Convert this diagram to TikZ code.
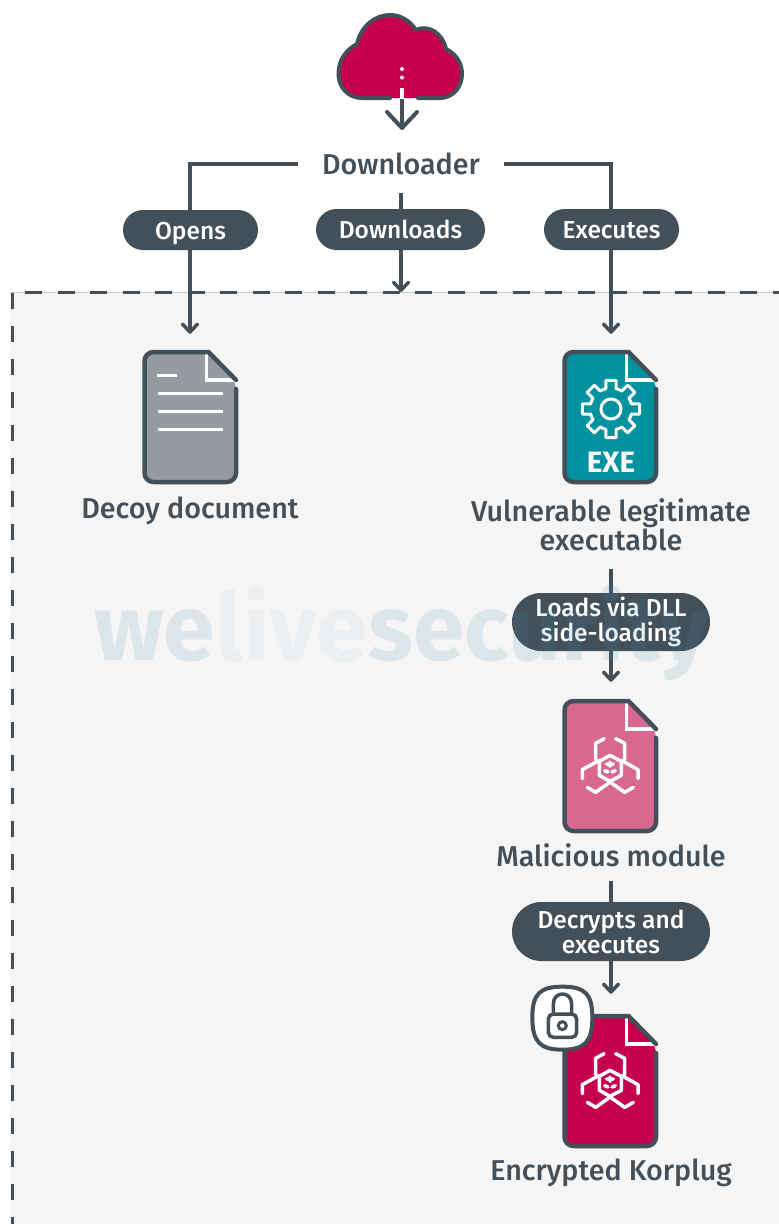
\documentclass[tikz,border=0pt]{standalone}
\usepackage{fontspec}
\setmainfont{Fira Sans}
\newfontfamily\labelfont{Fira Sans Medium}
\newfontfamily\heavyfont{Fira Sans}[BoldFont=* Bold]
\usetikzlibrary{arrows.meta,shapes.misc}
\definecolor{ink}{HTML}{434F59}
\definecolor{panel}{HTML}{F5F5F5}
\definecolor{crimson}{HTML}{C4004F}
\definecolor{rosepink}{HTML}{D96890}
\definecolor{tealfile}{HTML}{00939F}
\definecolor{greyfile}{HTML}{959BA1}
\definecolor{markblue}{HTML}{468CAA}
\tikzset{
  flow/.style={draw=ink,line width=3.5pt,-{Straight Barb[length=8pt,width=15pt,line width=3.5pt,round]}},
  pill/.style={rounded rectangle,fill=ink,text=white,inner sep=0pt,align=center,font=\labelfont\fontsize{24.5}{25}\selectfont},
  onerow/.style={text height=21pt,text depth=3pt},
  caption/.style={text=ink,inner sep=0pt,align=center,font=\labelfont\fontsize{28.7}{29}\selectfont},
  filebox/.style={minimum width=95pt,minimum height=132pt,inner sep=0pt},
  fileline/.style={draw=white,line width=3pt},
  wmark/.style={inner sep=0pt,anchor=base west,font=\heavyfont\bfseries\fontsize{93}{93}\selectfont,text=markblue},
  pics/docfile/.style={code={
    \fill[#1,rounded corners=9pt] (0,0) -- (64,0) -- (91.5,29) -- (91.5,130) -- (0,130) -- cycle;
    \draw[white,line width=3.5pt] (62,2) -- (62,28) -- (90,28);
    \draw[ink,line width=4.5pt,line join=round,line cap=round,rounded corners=9pt]
      (91.5,37) -- (91.5,130) -- (0,130) -- (0,0) -- (64,0);
    \draw[ink,line width=4.5pt,line cap=round] (64,0) -- (91.5,28);
  }},
  pics/biohazard/.style={code={
    \begin{scope}[x=0.3333pt,y=-0.3333pt,shift={(-268,-310)},draw=white,line width=3.5pt,line cap=round,line join=round]
      \draw (268,272) -- (302,290) -- (302,332) -- (268,350) -- (236,332) -- (236,290) -- cycle;
      \draw (250,222) -- (225,236) -- (225,285);
      \draw (285,222) -- (312,236) -- (312,285);
      \draw (185,342) -- (185,315) -- (236,287);
      \draw (352,342) -- (352,315) -- (302,287);
      \draw (200,368) -- (225,383) -- (268,352) -- (312,383) -- (338,368);
      \draw (258,298) -- (278,298) (268,292) -- (268,305) (252,318) -- (262,322) (284,318) -- (274,322);
    \end{scope}
  }},
}
\begin{document}
\begin{tikzpicture}[x=1pt,y=-1pt]
\useasboundingbox (0,0) rectangle (779,1224);
\fill[white] (0,0) rectangle (779,1224);
% panel
\fill[panel] (10,292) rectangle (779,1224);
\draw[black!20,line width=.6pt] (10,292) -- (779,292);
\draw[ink,line width=3pt,dash pattern=on 17pt off 15.5pt] (25,292.5) -- (779,292.5);
\draw[ink,line width=3pt,dash pattern=on 16pt off 17pt] (12,293) -- (12,1224);

% icon anchors and labels
\node[caption,inner xsep=24pt,inner ysep=6pt] (dl) at (401,164) {Downloader};
\node[filebox] (decoy) at (190,417) {};
\node[filebox] (vuln) at (611,417) {};
\node[filebox] (mal) at (611,766) {};
\node[filebox] (enc) at (611,1081) {};
\node[caption] (decoylabel) at (190,511) {Decoy document};
\node[caption] (vulnlabel) at (611,525) {Vulnerable legitimate\\executable};
\node[caption] (mallabel) at (611,855) {Malicious module};
\node[caption] (enclabel) at (611,1173) {Encrypted Korplug};
\coordinate (paneltop) at (401,292);

% connectors
\draw[flow] (dl.west) -| ([yshift=17pt]decoy.north);
\draw[flow] (dl.east) -| ([yshift=17pt]vuln.north);
\draw[flow,shorten <=12pt] (dl.south) -- (paneltop);
\draw[flow,shorten <=18pt,shorten >=18pt] (vulnlabel.south) -- (mal.north);
\draw[flow,shorten <=14pt,shorten >=21pt] (mallabel.south) -- (enc.north);

% pills
\node[pill,onerow,minimum width=135pt,minimum height=40pt] (opens) at (190.5,230) {Opens};
\node[pill,onerow,minimum width=169pt,minimum height=41pt] (downloads) at (400.5,229.5) {Downloads};
\node[pill,onerow,minimum width=135pt,minimum height=41pt] (executes) at (611.5,229.5) {Executes};
\node[pill,minimum width=198pt,minimum height=58pt] (loads) at (611,622) {Loads via DLL\\side-loading};
\node[pill,minimum width=198pt,minimum height=59pt] (decrypts) at (611,931.5) {Decrypts and\\executes};

% cloud
\path[fill=crimson] (362,98) .. controls (348,98) and (338.5,87) .. (338.5,74) .. controls (338.5,60) and (346,50) .. (357,44)
  .. controls (361,26) and (375,15) .. (390,15) .. controls (401,15) and (410,21) .. (416,30)
  .. controls (429,24) and (443,34) .. (446,49) .. controls (456,54) and (462,63) .. (462,74)
  .. controls (462,88) and (452,98) .. (440,98) -- cycle;
\draw[ink,line width=4pt,line cap=round] (390,98) -- (362,98) .. controls (348,98) and (338.5,87) .. (338.5,74) .. controls (338.5,60) and (346,50) .. (357,44)
  .. controls (361,26) and (375,15) .. (390,15) .. controls (401,15) and (410,21) .. (416,30)
  .. controls (429,24) and (443,34) .. (446,49) .. controls (456,54) and (462,63) .. (462,74)
  .. controls (462,88) and (452,98) .. (440,98) -- (418,98);
\fill[white] (402,69) circle (2pt) (402,77.5) circle (2pt);
\draw[white,line width=3.5pt] (402,88) -- (402,99);
\draw[ink,line width=3.5pt] (402,99) -- (402,127);
\draw[ink,line width=4pt,line cap=round,line join=round] (387,112) -- (402,128) -- (417,112);

% decoy document
\pic at (144.5,352) {docfile=greyfile};
\draw[fileline] (157,375) -- (177,375);
\foreach \ly in {393,411,429} \draw[fileline] (158,\ly) -- (223,\ly);

% exe
\pic at (564.5,352) {docfile=tealfile};
\foreach \a in {0,45,...,315}
  \draw[white,line width=3pt,line join=round,line cap=round,shift={(611,409)}]
    (\a-22.5:21) -- (\a-14:21) -- (\a-10:29) -- (\a+10:29) -- (\a+14:21) -- (\a+22.5:21);
\draw[white,line width=3pt] (611,409) circle (10);
\node[inner sep=0pt,text=white,font=\heavyfont\bfseries\fontsize{29.5}{29.5}\selectfont] (exe) at (611,462) {EXE};

% malicious module
\pic at (564.5,701) {docfile=rosepink};
\pic at (610,768) {biohazard};

% encrypted korplug
\pic at (564.5,1016) {docfile=crimson};
\pic at (610,1083) {biohazard};
\begin{scope}[shift={(520,980)},x=0.3333pt,y=-0.3333pt]
  \path[fill=white,draw=ink,line width=4pt] (127,20) .. controls (195,20) and (217,42) .. (217,112)
    .. controls (217,185) and (195,209) .. (127,209) .. controls (60,209) and (37,185) .. (37,112)
    .. controls (37,42) and (60,20) .. (127,20) -- cycle;
  \draw[ink,line width=3.5pt,rounded corners=5pt] (85,102) rectangle (170,172);
  \draw[ink,line width=3.5pt] (100,100) -- (100,72) .. controls (100,32) and (155,32) .. (155,72) -- (155,100);
  \draw[ink,line width=3pt] (127,137) circle (12);
\end{scope}

% watermark
\node[wmark,opacity=.14] (wm1) at (94,660) {we};
\node[wmark,opacity=.05] (wm2) at (wm1.base east) {live};
\node[wmark,opacity=.14] (wm3) at (wm2.base east) {security};
\end{tikzpicture}
\end{document}
